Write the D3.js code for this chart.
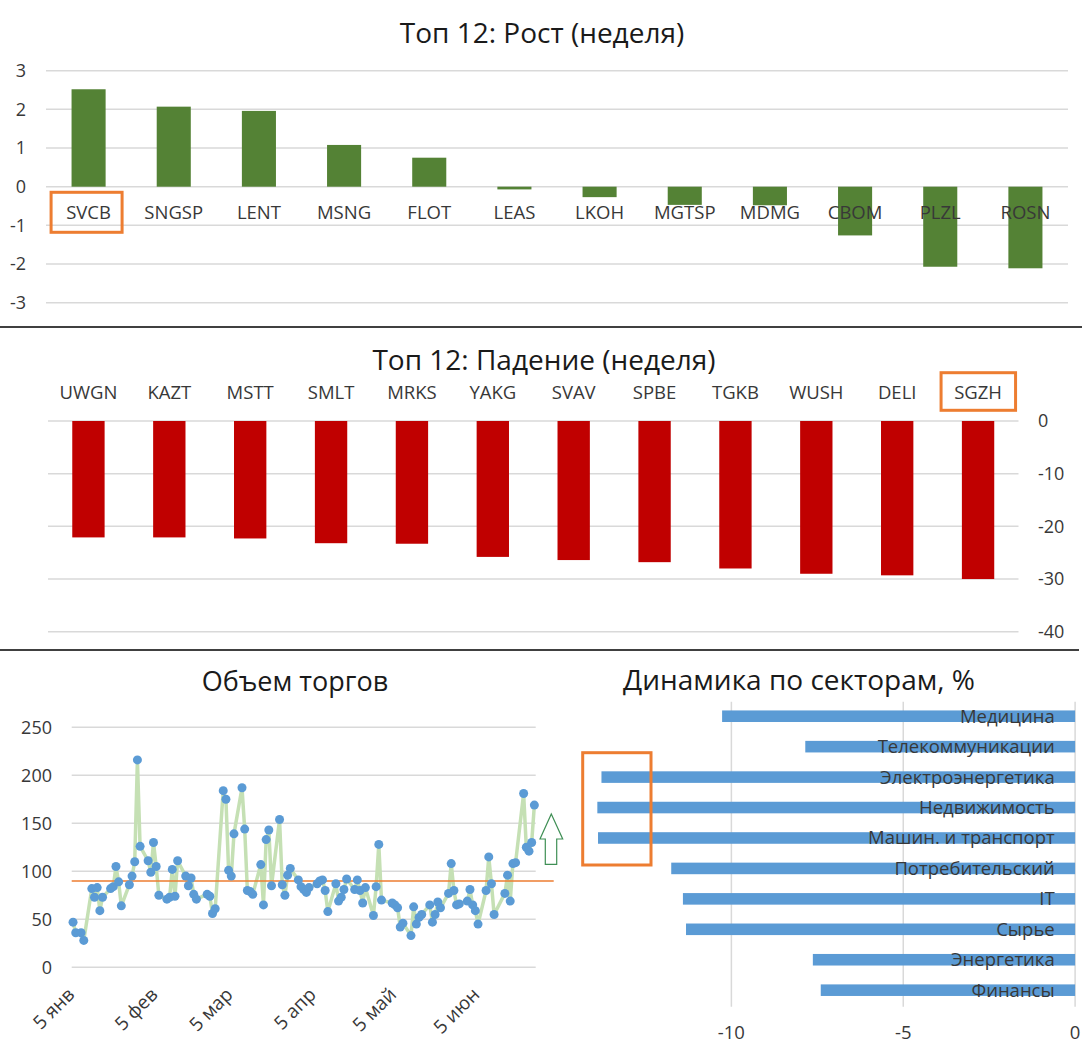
<!DOCTYPE html>
<html>
<head>
<meta charset="utf-8">
<script src="https://cdn.jsdelivr.net/npm/d3@7"></script>
<style>
    body { margin: 0; background: #fff; }
    svg { display: block; font-family: "Open Sans", "Noto Sans", sans-serif; }
</style>
</head>
<body>
<script>
// --- data ---
var riseNames = ['SVCB', 'SNGSP', 'LENT', 'MSNG', 'FLOT', 'LEAS', 'LKOH', 'MGTSP', 'MDMG', 'CBOM', 'PLZL', 'ROSN'];
var riseValues = [2.52, 2.07, 1.96, 1.08, 0.75, -0.07, -0.27, -0.47, -0.48, -1.26, -2.07, -2.11];

var fallNames = ['UWGN', 'KAZT', 'MSTT', 'SMLT', 'MRKS', 'YAKG', 'SVAV', 'SPBE', 'TGKB', 'WUSH', 'DELI', 'SGZH'];
var fallValues = [-22.1, -22.1, -22.3, -23.2, -23.3, -25.8, -26.4, -26.8, -28.0, -29.0, -29.3, -30.0];

var volDates = [
    '2026-01-05', '2026-01-06', '2026-01-08', '2026-01-09',
    '2026-01-12', '2026-01-13', '2026-01-14', '2026-01-15', '2026-01-16',
    '2026-01-19', '2026-01-20', '2026-01-21', '2026-01-22', '2026-01-23',
    '2026-01-26', '2026-01-27', '2026-01-28', '2026-01-29', '2026-01-30',
    '2026-02-02', '2026-02-03', '2026-02-04', '2026-02-05', '2026-02-06',
    '2026-02-09', '2026-02-10', '2026-02-11', '2026-02-12', '2026-02-13',
    '2026-02-16', '2026-02-17', '2026-02-18', '2026-02-19', '2026-02-20',
    '2026-02-24', '2026-02-25', '2026-02-26', '2026-02-27',
    '2026-03-02', '2026-03-03', '2026-03-04', '2026-03-05', '2026-03-06',
    '2026-03-09', '2026-03-10', '2026-03-11', '2026-03-12', '2026-03-13',
    '2026-03-16', '2026-03-17', '2026-03-18', '2026-03-19', '2026-03-20',
    '2026-03-23', '2026-03-24', '2026-03-25', '2026-03-26', '2026-03-27',
    '2026-03-30', '2026-03-31', '2026-04-01', '2026-04-02', '2026-04-03',
    '2026-04-06', '2026-04-07', '2026-04-08', '2026-04-09', '2026-04-10',
    '2026-04-13', '2026-04-14', '2026-04-15', '2026-04-16', '2026-04-17',
    '2026-04-20', '2026-04-21', '2026-04-22', '2026-04-23', '2026-04-24',
    '2026-04-27', '2026-04-28', '2026-04-29', '2026-04-30',
    '2026-05-04', '2026-05-05', '2026-05-06', '2026-05-07', '2026-05-08',
    '2026-05-11', '2026-05-12', '2026-05-13', '2026-05-14', '2026-05-15',
    '2026-05-18', '2026-05-19', '2026-05-20', '2026-05-21', '2026-05-22',
    '2026-05-25', '2026-05-26', '2026-05-27', '2026-05-28', '2026-05-29',
    '2026-06-01', '2026-06-02', '2026-06-03', '2026-06-04', '2026-06-05',
    '2026-06-08', '2026-06-09', '2026-06-10', '2026-06-11',
    '2026-06-15', '2026-06-16', '2026-06-17', '2026-06-18', '2026-06-19',
    '2026-06-22', '2026-06-23', '2026-06-24', '2026-06-25', '2026-06-26'
];
var volValues = [
    47, 36, 36, 28,
    82, 73, 83, 59, 73,
    82, 84, 105, 89, 64,
    86, 95, 110, 216, 126,
    111, 99, 130, 105, 75,
    71, 73, 102, 74, 111,
    95, 85, 93, 76, 71,
    76, 74, 56, 61,
    184, 175, 101, 95, 139,
    187, 144, 80, 79, 76,
    107, 65, 133, 143, 85,
    154, 86, 75, 96, 103,
    91, 84, 81, 78, 83,
    87, 90, 91, 80, 58,
    87, 69, 73, 81, 92,
    81, 91, 80, 67, 83,
    54, 84, 128, 70,
    67, 65, 62, 42, 46,
    33, 63, 45, 52, 55,
    65, 47, 55, 68, 62,
    77, 108, 80, 65, 66,
    69, 81, 65, 59, 45,
    80, 115, 87, 55,
    77, 96, 69, 108, 109,
    181, 125, 121, 130, 169
];
var volAverage = 90;
var volTickDates = ['2026-01-05', '2026-02-05', '2026-03-05', '2026-04-05', '2026-05-05', '2026-06-05'];
var volTickLabels = ['5 янв', '5 фев', '5 мар', '5 апр', '5 май', '5 июн'];

var sectorNames = ['Медицина', 'Телекоммуникации', 'Электроэнергетика', 'Недвижимость', 'Машин. и транспорт',
                   'Потребительский', 'IT', 'Сырье', 'Энергетика', 'Финансы'];
var sectorValues = [-10.27, -7.85, -13.78, -13.9, -13.88, -11.75, -11.41, -11.32, -7.63, -7.4];

(function() {

    var grid = '#d9d9d9',
        ink = '#383838',
        orange = '#ed7d31';

    var svg = d3.select('body').append('svg')
                .attr('width', 1092)
                .attr('height', 1048);

    var title = function(text, x, y, size) {
        svg.append('text')
            .attr('x', x)
            .attr('y', y)
            .attr('dy', '0.35em')
            .attr('text-anchor', 'middle')
            .attr('font-size', size)
            .attr('fill', '#1a1a1a')
            .text(text);
    };

    var box = function(x0, y0, x1, y1) {
        svg.append('rect')
            .attr('x', x0).attr('y', y0)
            .attr('width', x1 - x0).attr('height', y1 - y0)
            .attr('fill', 'none')
            .attr('stroke', orange)
            .attr('stroke-width', 3);
    };

    // ---------- panel 1: rise ----------
    var x1 = d3.scaleBand().domain(riseNames).range([46, 1068]).paddingInner(0.6).paddingOuter(0.3);
    var y1 = d3.scaleLinear().domain([-3, 3]).range([302.7, 70.7]);

    title('Топ 12: Рост (неделя)', 542, 33, 28);

    svg.append('g').selectAll('line')
        .data(y1.ticks(6))
        .enter().append('line')
            .attr('x1', 46).attr('x2', 1068)
            .attr('y1', function(d) { return y1(d); })
            .attr('y2', function(d) { return y1(d); })
            .attr('stroke', grid).attr('stroke-width', 1.5);

    svg.append('g').selectAll('text')
        .data(y1.ticks(6))
        .enter().append('text')
            .attr('x', 26)
            .attr('y', function(d) { return y1(d); })
            .attr('dy', '0.35em')
            .attr('text-anchor', 'end')
            .attr('font-size', 18)
            .attr('fill', ink)
            .text(function(d) { return d; });

    svg.append('g').selectAll('rect')
        .data(riseValues)
        .enter().append('rect')
            .attr('x', function(d, i) { return x1(riseNames[i]); })
            .attr('y', function(d) { return y1(Math.max(0, d)); })
            .attr('width', x1.bandwidth())
            .attr('height', function(d) { return Math.abs(y1(d) - y1(0)); })
            .attr('fill', '#548235');

    svg.append('g').selectAll('text')
        .data(riseNames)
        .enter().append('text')
            .attr('x', function(d) { return x1(d) + x1.bandwidth() / 2; })
            .attr('y', 213)
            .attr('dy', '0.35em')
            .attr('text-anchor', 'middle')
            .attr('font-size', 18.5)
            .attr('fill', ink)
            .text(function(d) { return d; });

    var c1 = x1(riseNames[0]) + x1.bandwidth() / 2;
    box(c1 - 37.5, 192.3, c1 + 33.5, 232.3);

    svg.append('line')
        .attr('x1', 0).attr('x2', 1082)
        .attr('y1', 327).attr('y2', 327)
        .attr('stroke', '#000').attr('stroke-width', 1.5);

    // ---------- panel 2: fall ----------
    var x2 = d3.scaleBand().domain(fallNames).range([48, 1018.5]).paddingInner(0.6).paddingOuter(0.3);
    var y2 = d3.scaleLinear().domain([-40, 0]).range([631.7, 421]);

    title('Топ 12: Падение (неделя)', 544, 360, 28);

    svg.append('g').selectAll('line')
        .data(y2.ticks(5))
        .enter().append('line')
            .attr('x1', 48).attr('x2', 1018.5)
            .attr('y1', function(d) { return y2(d); })
            .attr('y2', function(d) { return y2(d); })
            .attr('stroke', grid).attr('stroke-width', 1.5);

    svg.append('g').selectAll('text')
        .data(y2.ticks(5))
        .enter().append('text')
            .attr('x', 1038)
            .attr('y', function(d) { return y2(d); })
            .attr('dy', '0.35em')
            .attr('font-size', 18)
            .attr('fill', ink)
            .text(function(d) { return d; });

    svg.append('g').selectAll('rect')
        .data(fallValues)
        .enter().append('rect')
            .attr('x', function(d, i) { return x2(fallNames[i]); })
            .attr('y', y2(0))
            .attr('width', x2.bandwidth())
            .attr('height', function(d) { return y2(d) - y2(0); })
            .attr('fill', '#c00000');

    svg.append('g').selectAll('text')
        .data(fallNames)
        .enter().append('text')
            .attr('x', function(d) { return x2(d) + x2.bandwidth() / 2; })
            .attr('y', 393)
            .attr('dy', '0.35em')
            .attr('text-anchor', 'middle')
            .attr('font-size', 18.5)
            .attr('fill', ink)
            .text(function(d) { return d; });

    var c2 = x2(fallNames[11]) + x2.bandwidth() / 2;
    box(c2 - 37, 372.7, c2 + 37.5, 410.3);

    svg.append('line')
        .attr('x1', 0).attr('x2', 1079)
        .attr('y1', 650).attr('y2', 650)
        .attr('stroke', '#000').attr('stroke-width', 1.5);

    // ---------- panel 3: volume ----------
    var parse = d3.timeParse('%Y-%m-%d');
    var dates = volDates.map(parse);
    var ext = d3.extent(dates);
    var x3 = d3.scaleTime()
                .domain([d3.timeHour.offset(ext[0], -12), d3.timeHour.offset(ext[1], 12)])
                .range([71.7, 535.7]);
    var y3 = d3.scaleLinear().domain([0, 250]).range([967.3, 727.3]);

    title('Объем торгов', 295, 682, 27);

    svg.append('g').selectAll('line')
        .data(y3.ticks(5))
        .enter().append('line')
            .attr('x1', 71.7).attr('x2', 535.7)
            .attr('y1', function(d) { return y3(d); })
            .attr('y2', function(d) { return y3(d); })
            .attr('stroke', grid).attr('stroke-width', 1.5);

    svg.append('g').selectAll('text')
        .data(y3.ticks(5))
        .enter().append('text')
            .attr('x', 52)
            .attr('y', function(d) { return y3(d); })
            .attr('dy', '0.35em')
            .attr('text-anchor', 'end')
            .attr('font-size', 18)
            .attr('fill', ink)
            .text(function(d) { return d; });

    svg.append('g').selectAll('text')
        .data(volTickDates)
        .enter().append('text')
            .attr('transform', function(d) {
                return 'translate(' + (x3(parse(d)) - 2) + ',991) rotate(-45)';
            })
            .attr('dy', '0.35em')
            .attr('text-anchor', 'end')
            .attr('font-size', 19)
            .attr('fill', ink)
            .text(function(d, i) { return volTickLabels[i]; });

    var line = d3.line()
                .x(function(d, i) { return x3(dates[i]); })
                .y(function(d) { return y3(d); });

    svg.append('path')
        .datum(volValues)
        .attr('d', line)
        .attr('fill', 'none')
        .attr('stroke', '#c5e0b4')
        .attr('stroke-width', 3.5)
        .attr('stroke-linejoin', 'round');

    svg.append('line')
        .attr('x1', 71.7).attr('x2', 553.7)
        .attr('y1', y3(volAverage)).attr('y2', y3(volAverage))
        .attr('stroke', orange).attr('stroke-width', 1.5);

    svg.append('g').selectAll('circle')
        .data(volValues)
        .enter().append('circle')
            .attr('cx', function(d, i) { return x3(dates[i]); })
            .attr('cy', function(d) { return y3(d); })
            .attr('r', 4.5)
            .attr('fill', '#5b9bd5');

    // hollow up arrow next to the chart
    var arrow = [[551.3, 814], [562.7, 839], [556.7, 839], [556.7, 864.3],
                 [545.3, 864.3], [545.3, 839], [540, 839]];
    svg.append('path')
        .attr('d', d3.line()(arrow) + 'Z')
        .attr('fill', '#fff')
        .attr('stroke', '#3f8f55')
        .attr('stroke-width', 1.2);

    // ---------- panel 4: sectors ----------
    var x4 = d3.scaleLinear().domain([-14, 0]).range([593.9, 1075.1]);
    var y4 = d3.scaleBand().domain(sectorNames).range([701, 1005.4]).paddingInner(0.62).paddingOuter(0.31);

    title('Динамика по секторам, %', 799, 680, 28);

    svg.append('g').selectAll('line')
        .data(x4.ticks(3))
        .enter().append('line')
            .attr('x1', function(d) { return x4(d); })
            .attr('x2', function(d) { return x4(d); })
            .attr('y1', 701.7).attr('y2', 1006.7)
            .attr('stroke', grid).attr('stroke-width', 1.5);

    svg.append('g').selectAll('text')
        .data(x4.ticks(3))
        .enter().append('text')
            .attr('x', function(d) { return x4(d); })
            .attr('y', 1033)
            .attr('dy', '0.35em')
            .attr('text-anchor', 'middle')
            .attr('font-size', 18.5)
            .attr('fill', ink)
            .text(function(d) { return d; });

    svg.append('g').selectAll('rect')
        .data(sectorValues)
        .enter().append('rect')
            .attr('x', function(d) { return x4(d); })
            .attr('y', function(d, i) { return y4(sectorNames[i]); })
            .attr('width', function(d) { return x4(0) - x4(d); })
            .attr('height', y4.bandwidth())
            .attr('fill', '#5b9bd5');

    svg.append('g').selectAll('text')
        .data(sectorNames)
        .enter().append('text')
            .attr('x', 1054.7)
            .attr('y', function(d) { return y4(d) + y4.bandwidth() / 2; })
            .attr('dy', '0.35em')
            .attr('text-anchor', 'end')
            .attr('font-size', 18.5)
            .attr('fill', ink)
            .text(function(d) { return d; });

    box(582.7, 752.7, 651, 865);

}());
</script>
</body>
</html>
